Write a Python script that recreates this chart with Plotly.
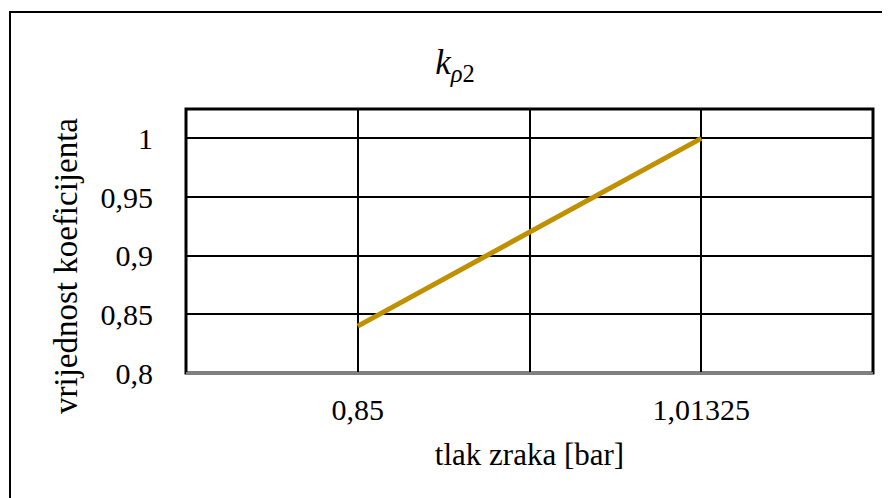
import plotly.graph_objects as go

categories = ["0,85", "1,01325"]
values = [0.84, 1.0]
y_ticks = [0.8, 0.85, 0.9, 0.95, 1.0]
y_tick_labels = ["0,8", "0,85", "0,9", "0,95", "1"]

FONT = "Liberation Serif, Times New Roman, serif"
OFF = 8  # page body margin
W, H = 890 - OFF, 498 - OFF
# plot area in page pixels: x 186..873, y 109..373
L = 186 - OFF
T = 109 - OFF
R = OFF + W - 873
B = OFF + H - 373
pw, ph = W - L - R, H - T - B

x_idx = list(range(len(categories)))

fig = go.Figure()
fig.add_trace(go.Scatter(
    x=x_idx, y=values, mode="lines",
    line=dict(color="#BF9000", width=5),
    showlegend=False, hoverinfo="skip"
))

def px_x(p):
    return (p - 186) / pw

def px_y(p):
    return (373 - p) / ph

fig.update_layout(
    width=W, height=H,
    margin=dict(l=L, r=R, t=T, b=B),
    paper_bgcolor="white", plot_bgcolor="white",
    font=dict(family=FONT, color="black", size=30),
    title=dict(
        text="<i>k</i><sub><i>ρ</i>2</sub>",
        x=px_x(455), xref="paper", xanchor="center",
        y=1 - (62 - OFF) / H, yref="container", yanchor="middle",
        font=dict(family=FONT, size=35, color="black"),
    ),
    xaxis=dict(
        range=[-0.5, 1.5],
        tickvals=[0, 0.5, 1], ticktext=[categories[0], "", categories[1]],
        showgrid=True, gridcolor="black", gridwidth=1.5,
        zeroline=False, showline=False,
        ticks="outside", tickcolor="rgba(0,0,0,0)", ticklen=10,
        tickfont=dict(family=FONT, size=30),
        title=dict(text="tlak zraka [bar]", font=dict(family=FONT, size=31), standoff=18),
    ),
    yaxis=dict(
        range=[0.8, 1.025],
        tickvals=y_ticks, ticktext=y_tick_labels,
        showgrid=True, gridcolor="black", gridwidth=1.5,
        zeroline=False, showline=False,
        ticks="outside", tickcolor="rgba(0,0,0,0)", ticklen=26,
        tickfont=dict(family=FONT, size=30),
    ),
    annotations=[
        dict(text="vrijednost koeficijenta", textangle=-90,
             xref="paper", yref="paper", x=px_x(66), y=px_y(266),
             xanchor="center", yanchor="middle", showarrow=False,
             font=dict(family=FONT, size=33, color="black")),
    ],
    shapes=[
        dict(type="rect", xref="paper", yref="paper", x0=0, y0=0, x1=1, y1=1,
             line=dict(color="black", width=3), layer="above"),
        dict(type="line", xref="paper", yref="paper", x0=0, y0=0, x1=1, y1=0,
             line=dict(color="#808080", width=2), layer="above"),
        dict(type="rect", xref="paper", yref="paper",
             x0=px_x(10), y0=px_y(520), x1=px_x(910), y1=px_y(12),
             line=dict(color="black", width=2), layer="above"),
    ],
)

fig.write_html("out.html")
